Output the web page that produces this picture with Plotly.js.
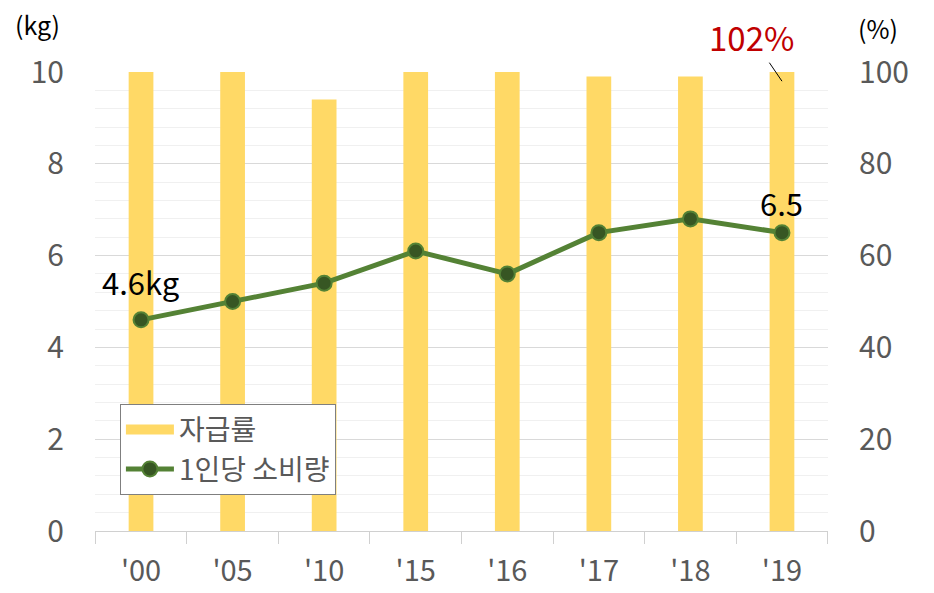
<!DOCTYPE html>
<html><head><meta charset="utf-8">
<script src="https://cdn.plot.ly/plotly-3.0.1.min.js"></script>
<style>body{margin:0;background:#fff}#c{width:934px;height:593px}</style>
</head><body><div id="c"></div>
<script>
const years = ["'00","'05","'10","'15","'16","'17","'18","'19"];
const selfSufficiency = [104, 103, 94, 106, 103, 99, 99, 102];
const perCapita = [4.6, 5.0, 5.4, 6.1, 5.6, 6.5, 6.8, 6.5];
const barName = "자급률";
const lineName = "1인당 소비량";

const F = "'Noto Sans CJK KR', 'Noto Sans', sans-serif";
const grey = "#595959";

const traces = [
  {type:"bar", x:years, y:selfSufficiency, name:barName, yaxis:"y", showlegend:false,
   marker:{color:"#FFD966"}, width:0.27, hoverinfo:"skip"},
  {type:"scatter", mode:"lines", x:[null], y:[null], name:barName, yaxis:"y",
   line:{color:"#FFD966", width:15}, showlegend:true},
  {type:"scatter", mode:"lines+markers", x:years, y:perCapita, name:lineName, yaxis:"y2",
   line:{color:"#548235", width:5}, marker:{size:15, color:"#375623", line:{color:"#548235", width:2}}}
];

const layout = {
  width:934, height:593,
  margin:{l:95, r:106, t:72, b:62},
  paper_bgcolor:"#fff", plot_bgcolor:"#fff",
  font:{family:F, color:grey, size:26},
  showlegend:true,
  legend:{x:0.034, y:0.277, xanchor:"left", yanchor:"top", bordercolor:"#7f7f7f", borderwidth:1,
          bgcolor:"#fff", font:{size:28, color:grey}, itemwidth:48, tracegroupgap:0, traceorder:"normal"},
  xaxis:{type:"category", tickson:"boundaries", ticks:"outside", ticklen:12, tickcolor:"#d0d0d0",
         showline:true, linecolor:"#d0d0d0", linewidth:1, tickfont:{size:29, color:grey},
         ticklabelstandoff:14, fixedrange:true},
  yaxis:{side:"right", range:[0,100], dtick:20, showgrid:true, gridcolor:"#d9d9d9", gridwidth:1,
         minor:{dtick:4, showgrid:true, gridcolor:"#f0f0f0", gridwidth:1},
         zeroline:false, ticks:"", ticklabelstandoff:30, tickfont:{size:30, color:grey}},
  yaxis2:{overlaying:"y", side:"left", range:[0,10], dtick:2, showgrid:false, zeroline:false,
          ticks:"", ticklabelstandoff:30, tickfont:{size:30, color:grey}},
  annotations:[
    {xref:"paper", yref:"paper", x:-0.078, y:1.0, yshift:48, text:"(kg)", showarrow:false,
     xanchor:"center", yanchor:"middle", font:{size:25, color:"#000"}},
    {xref:"paper", yref:"paper", x:1.068, y:1.0, yshift:44, text:"(%)", showarrow:false,
     xanchor:"center", yanchor:"middle", font:{size:25, color:"#000"}},
    {x:years[0], y:perCapita[0], yref:"y2", text:"4.6kg", showarrow:false, yshift:38,
     font:{size:31, color:"#000"}},
    {x:years[7], y:perCapita[7], yref:"y2", text:"6.5", showarrow:false, yshift:30,
     font:{size:31, color:"#000"}},
    {x:years[7], y:98, yref:"y", text:"102%", showarrow:true, arrowhead:0, arrowwidth:1,
     arrowcolor:"#000", ax:-30, ay:-44, font:{size:33, color:"#C00000"}}
  ]
};
Plotly.newPlot("c", traces, layout, {displayModeBar:false, staticPlot:true});
</script></body></html>
